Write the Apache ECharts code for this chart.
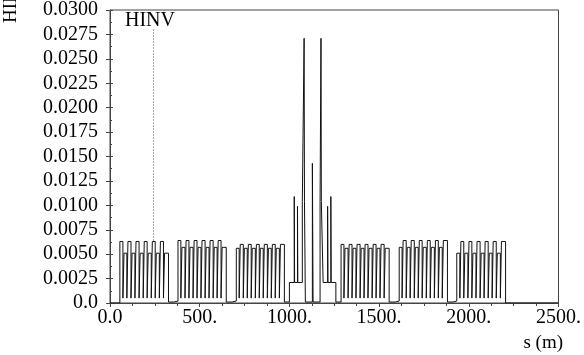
<!DOCTYPE html>
<html>
<head>
<meta charset="utf-8">
<script src="https://cdn.jsdelivr.net/npm/echarts/dist/echarts.min.js"></script>
<style>
html,body{margin:0;padding:0;background:#fff;}
#hinv_chart{width:584px;height:355px;}
</style>
</head>
<body>
<div id="hinv_chart"></div>
<script>
// s (m), HINV pairs, one step list per ring section
var head = [[0, 0]];
var arc1 = [[55,0.0063],[72,0.0005],[78,0.0051],[94,0.0005],[100,0.0063],[117,0.0005],[123,0.0051],[139,0.0005],[145,0.0063],[162,0.0005],[168,0.0051],[185,0.0005],[191,0.0063],[207,0.0005],[213,0.0051],[230,0.0005],[236,0.0063],[252,0.0005],[258,0.0051],[275,0.0005],[281,0.0063],[298,0.0005],[304,0.0051]];
var gap1 = [[326,0.0001],[340,0.0003],[347,0.0001],[356,0.0003],[362,0.0002]];
var arc2 = [[379,0.0064],[395,0.0005],[401,0.0057],[418,0.0005],[424,0.0064],[440,0.0005],[446,0.0057],[463,0.0005],[469,0.0064],[485,0.0005],[491,0.0057],[507,0.0005],[513,0.0064],[530,0.0005],[536,0.0057],[552,0.0005],[558,0.0064],[575,0.0005],[581,0.0057],[597,0.0005],[603,0.0064],[619,0.0005],[625,0.0057]];
var gap2 = [[648,0.0001],[662,0.0003],[670,0.0001],[680,0.0003],[688,0.0002]];
var arc3 = [[704,0.0056],[720,0.0005],[726,0.0060],[743,0.0005],[749,0.0056],[765,0.0005],[771,0.0060],[787,0.0005],[793,0.0056],[810,0.0005],[816,0.0060],[832,0.0005],[838,0.0056],[854,0.0005],[860,0.0060],[877,0.0005],[883,0.0056],[899,0.0005],[905,0.0060],[921,0.0005],[927,0.0056],[944,0.0005],[950,0.0060]];
var center = [[972,0.0001],[1000,0.0021],[1027,0.0109],[1029,0.0021],[1045,0.0099],[1047,0.0021],[1072,0.0104],[1082,0.0271],[1084,0.0104],[1089,0.0001],[1128,0.0143],[1132,0.0001],[1171,0.0104],[1176,0.0271],[1178,0.0104],[1188,0.0021],[1213,0.0099],[1215,0.0021],[1231,0.0109],[1233,0.0021],[1259,0.0001]];
var arc4 = [[1288,0.0060],[1304,0.0005],[1310,0.0056],[1327,0.0005],[1333,0.0060],[1349,0.0005],[1355,0.0056],[1371,0.0005],[1377,0.0060],[1394,0.0005],[1400,0.0056],[1416,0.0005],[1422,0.0060],[1438,0.0005],[1444,0.0056],[1461,0.0005],[1467,0.0060],[1483,0.0005],[1489,0.0056],[1505,0.0005],[1511,0.0060],[1528,0.0005],[1534,0.0056]];
var gap4 = [[1556,0.0001],[1572,0.0003],[1580,0.0001],[1590,0.0003],[1598,0.0002]];
var arc5 = [[1612,0.0057],[1628,0.0005],[1634,0.0064],[1651,0.0005],[1657,0.0057],[1673,0.0005],[1679,0.0064],[1696,0.0005],[1702,0.0057],[1718,0.0005],[1724,0.0064],[1740,0.0005],[1746,0.0057],[1763,0.0005],[1769,0.0064],[1785,0.0005],[1791,0.0057],[1808,0.0005],[1814,0.0064],[1830,0.0005],[1836,0.0057],[1852,0.0005],[1858,0.0064]];
var gap5 = [[1881,0.0001],[1895,0.0003],[1903,0.0001],[1912,0.0003],[1920,0.0002]];
var arc6 = [[1933,0.0051],[1950,0.0005],[1956,0.0063],[1972,0.0005],[1978,0.0051],[1995,0.0005],[2001,0.0063],[2017,0.0005],[2023,0.0051],[2040,0.0005],[2046,0.0063],[2063,0.0005],[2069,0.0051],[2085,0.0005],[2091,0.0063],[2108,0.0005],[2114,0.0051],[2130,0.0005],[2136,0.0063],[2153,0.0005],[2159,0.0051],[2176,0.0005],[2182,0.0063]];
var tail = [[2205,0],[2500,0]];
// dotted marker line (s, from, to)
var markerS = 242;
var markerRange = [0.0280, 0.0063];

var serif = '"Liberation Serif", "DejaVu Serif", serif';
var frameColor = '#444';

var myChart = echarts.init(document.getElementById('hinv_chart'));
var option = {
    animation: false,
    grid: {
        left: 110, right: 24, top: 10, bottom: 52,
        show: true, borderColor: frameColor, borderWidth: 1
    },
    xAxis: [{
        type: 'value', min: 0, max: 2500, interval: 500,
        axisLine: {show: true, lineStyle: {color: frameColor}},
        axisTick: {show: true, length: 4, lineStyle: {color: frameColor}},
        minorTick: {show: true, splitNumber: 4, length: 3, lineStyle: {color: frameColor}},
        splitLine: {show: false},
        axisLabel: {
            color: '#000', fontFamily: serif, fontSize: 20, margin: 5,
            formatter: function (v) { return v === 0 ? '0.0' : v + '.'; }
        }
    }, {
        type: 'value', min: 0, max: 2500, interval: 500, position: 'top',
        axisLine: {show: true, lineStyle: {color: frameColor}},
        axisTick: {show: true, inside: true, length: 3, lineStyle: {color: frameColor}},
        minorTick: {show: true, splitNumber: 4, length: 2, lineStyle: {color: frameColor}},
        splitLine: {show: false},
        axisLabel: {show: false}
    }],
    yAxis: [{
        type: 'value', min: 0, max: 0.03, interval: 0.0025,
        axisLine: {show: true, lineStyle: {color: frameColor}},
        axisTick: {show: true, length: 4, lineStyle: {color: frameColor}},
        splitLine: {show: false},
        axisLabel: {
            color: '#000', fontFamily: serif, fontSize: 20, margin: 12,
            formatter: function (v) { return v === 0 ? '0.0' : v.toFixed(4); }
        }
    }, {
        type: 'value', min: 0, max: 0.03, interval: 0.0025, position: 'left',
        axisLine: {show: false},
        axisTick: {show: true, inside: true, length: 3, lineStyle: {color: frameColor}},
        minorTick: {show: true, splitNumber: 2, length: 2, lineStyle: {color: frameColor}},
        splitLine: {show: false},
        axisLabel: {show: false}
    }],
    graphic: [{
        type: 'text', x: 11, y: 23, rotation: Math.PI / 2,
        style: {text: 'HINV', font: '19px ' + serif, fill: '#000',
            align: 'left', textAlign: 'left', verticalAlign: 'middle', textVerticalAlign: 'middle'}
    }, {
        type: 'text', x: 125, y: 21,
        style: {text: 'HINV', font: '20px ' + serif, fill: '#000',
            align: 'left', textAlign: 'left', verticalAlign: 'middle', textVerticalAlign: 'middle'}
    }, {
        type: 'text', x: 563, y: 343,
        style: {text: 's (m)', font: '19px ' + serif, fill: '#000',
            align: 'right', textAlign: 'right', verticalAlign: 'middle', textVerticalAlign: 'middle'}
    }],
    series: [{
        type: 'line',
        step: 'end',
        showSymbol: false,
        xAxisIndex: 0, yAxisIndex: 0,
        data: head.concat(arc1, gap1, arc2, gap2, arc3, center, arc4, gap4, arc5, gap5, arc6, tail),
        lineStyle: {color: '#111', width: 1},
        markLine: {
            silent: true, symbol: 'none',
            label: {show: false},
            lineStyle: {type: [1, 2], color: '#555', width: 1},
            data: [[{coord: [markerS, markerRange[0]]}, {coord: [markerS, markerRange[1]]}]]
        }
    }]
};
myChart.setOption(option);
</script>
</body>
</html>
